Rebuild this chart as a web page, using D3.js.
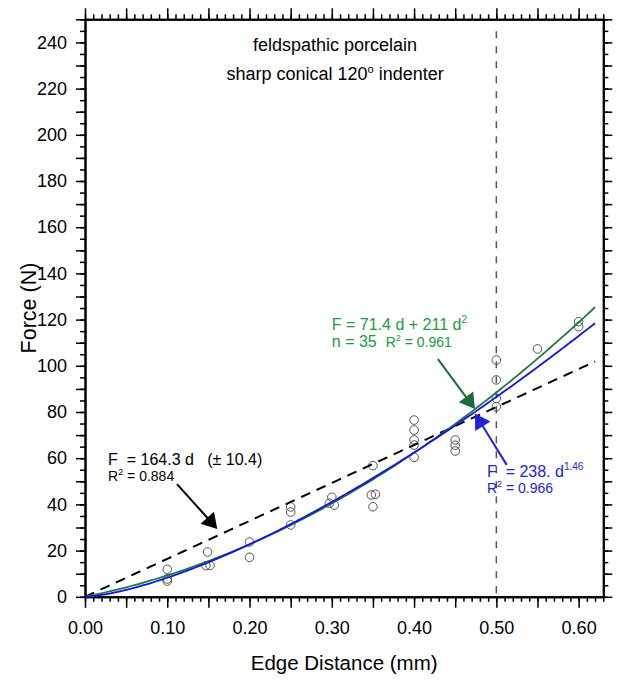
<!DOCTYPE html>
<html><head><meta charset="utf-8">
<script src="https://cdn.jsdelivr.net/npm/d3@7"></script>
<style>html,body{margin:0;padding:0;background:#fff}svg{display:block;font-family:Arial,"Liberation Sans",sans-serif}</style>
</head><body>
<script>
// ---- data ----
const distance = [0.10,0.10,0.10, 0.149,0.147,0.152, 0.20,0.20, 0.25,0.25,0.25, 0.30,0.297,0.303,
  0.35,0.348,0.353,0.35, 0.40,0.40,0.40,0.40,0.40, 0.45,0.45,0.45, 0.50,0.50,0.50,0.50, 0.55, 0.60,0.60];
const force = [11.9,7.7,6.8, 19.4,13.5,13.6, 23.7,17.1, 38.9,36.7,31.1, 43.1,40.5,39.7,
  56.8,44.1,44.4,39.0, 76.5,72.2,67.9,65.7,60.4, 67.9,65.6,63.1, 102.5,93.9,85.9,82.3, 107.3, 119.1,116.9];
const linearFit = [164.3];        // F = a d
const quadFit = [71.4, 211];      // F = a d + b d^2
const powerFit = [238, 1.46];     // F = a d^b
const fitRange = [0, 0.62];
const xTickLabels = ["0.00","0.10","0.20","0.30","0.40","0.50","0.60"];
const yTickLabels = ["0","20","40","60","80","100","120","140","160","180","200","220","240"];
const xDomain = [0, 0.63], yDomain = [0, 250];
const limitLine = [0.50];

const W = 624, H = 681;
const svg = d3.select("body").append("svg").attr("width", W).attr("height", H);
const x = d3.scaleLinear().domain(xDomain).range([85, 603.3]);
const y = d3.scaleLinear().domain(yDomain).range([596.8, 19.3]);

// axes
function styleAxis(g){
  g.select(".domain").attr("stroke","#000").attr("stroke-width",2);
  g.selectAll(".tick line").attr("stroke","#000").attr("stroke-width",1.5);
  g.selectAll("text").attr("font-size",18).attr("fill","#000").attr("font-family","Arial, 'Liberation Sans', sans-serif");
}
const xMinor = d3.range(0, 64).map(i => i/100);
const xMajor = d3.range(0, 13).map(i => i*0.05);
const yMinor = d3.range(0, 51).map(i => i*5);
const yMajor = d3.range(0, 26).map(i => i*10);
const xFmt = v => { const s = d3.format(".2f")(v); return xTickLabels.includes(s) ? s : ""; };
const yFmt = v => { const s = String(Math.round(v)); return yTickLabels.includes(s) ? s : ""; };

svg.append("g").attr("transform",`translate(0,${y(0)})`).call(d3.axisBottom(x).tickValues(xMinor).tickSize(5).tickSizeOuter(0).tickFormat("")).call(styleAxis);
svg.append("g").attr("transform",`translate(0,${y(0)})`).call(d3.axisBottom(x).tickValues(xMajor).tickSize(11).tickSizeOuter(0).tickPadding(13).tickFormat(xFmt)).call(styleAxis);
svg.append("g").attr("transform",`translate(0,${y(250)})`).call(d3.axisTop(x).tickValues(xMinor).tickSize(5).tickSizeOuter(0).tickFormat("")).call(styleAxis);
svg.append("g").attr("transform",`translate(0,${y(250)})`).call(d3.axisTop(x).tickValues(xMajor).tickSize(11).tickSizeOuter(0).tickFormat("")).call(styleAxis);
svg.append("g").attr("transform",`translate(${x(0)},0)`).call(d3.axisLeft(y).tickValues(yMinor).tickSize(5).tickSizeOuter(0).tickFormat("")).call(styleAxis);
svg.append("g").attr("transform",`translate(${x(0)},0)`).call(d3.axisLeft(y).tickValues(yMajor).tickSize(9).tickSizeOuter(0).tickPadding(9).tickFormat(yFmt)).call(styleAxis);
svg.append("g").attr("transform",`translate(${x(0.63)},0)`).call(d3.axisRight(y).tickValues(yMinor).tickSize(5).tickSizeOuter(0).tickFormat("")).call(styleAxis);
svg.append("g").attr("transform",`translate(${x(0.63)},0)`).call(d3.axisRight(y).tickValues(yMajor).tickSize(9).tickSizeOuter(0).tickFormat("")).call(styleAxis);

// axis titles
svg.append("text").attr("x",(x(0)+x(0.63))/2).attr("y",670).attr("text-anchor","middle").attr("font-size",20.5).text("Edge Distance (mm)");
svg.append("text").attr("transform",`translate(36,${(y(0)+y(250))/2}) rotate(-90)`).attr("text-anchor","middle").attr("font-size",21.5).text("Force (N)");

// vertical dashed line
svg.append("line").attr("x1",x(limitLine[0])).attr("x2",x(limitLine[0])).attr("y1",y(250)+12).attr("y2",y(0))
  .attr("stroke","#555").attr("stroke-width",1.5).attr("stroke-dasharray","7,8");

// data points
svg.append("g").selectAll("circle").data(distance.map((d,i)=>[d,force[i]])).join("circle")
  .attr("cx",d=>x(d[0])).attr("cy",d=>y(d[1])).attr("r",4.3)
  .attr("fill","none").attr("stroke","#555").attr("stroke-width",1);

// fit curves
const ds = d3.range(0, 125).map(i => fitRange[0] + (fitRange[1]-fitRange[0])*i/124);
const line = d3.line().x(d=>x(d[0])).y(d=>y(d[1]));
svg.append("path").attr("d", line(ds.map(d=>[d, linearFit[0]*d]))).attr("fill","none")
  .attr("stroke","#000").attr("stroke-width",2).attr("stroke-dasharray","10,7");
svg.append("path").attr("d", line(ds.map(d=>[d, quadFit[0]*d + quadFit[1]*d*d]))).attr("fill","none")
  .attr("stroke","#1e7a3c").attr("stroke-width",1.8);
svg.append("path").attr("d", line(ds.map(d=>[d, powerFit[0]*Math.pow(d,powerFit[1])]))).attr("fill","none")
  .attr("stroke","#1414e6").attr("stroke-width",1.8);

// arrows (data coordinates)
function arrow(from, to, color, w, L, hw){
  const x1=x(from[0]), y1=y(from[1]), x2=x(to[0]), y2=y(to[1]);
  const dx=x2-x1, dy=y2-y1, len=Math.hypot(dx,dy), ux=dx/len, uy=dy/len;
  const bx=x2-ux*L, by=y2-uy*L;
  svg.append("line").attr("x1",x1).attr("y1",y1).attr("x2",bx+ux*2).attr("y2",by+uy*2).attr("stroke",color).attr("stroke-width",w);
  svg.append("polygon").attr("points",[[x2,y2],[bx-uy*hw,by+ux*hw],[bx+uy*hw,by-ux*hw]].map(p=>p.join(",")).join(" ")).attr("fill",color);
}
arrow([0.1118,48.8],[0.1608,29.4],"#000",2,15,9);
arrow([0.429,102.9],[0.474,81.3],"#1e6b3a",2,15,9);
arrow([0.5126,57.1],[0.474,79.4],"#2222dd",2,15,9);

// annotations
const t1 = svg.append("text").attr("x",x(0.304)).attr("y",51).attr("text-anchor","middle").attr("font-size",18).text("feldspathic porcelain");
const t2 = svg.append("text").attr("x",x(0.304)).attr("y",80).attr("text-anchor","middle").attr("font-size",18);
t2.append("tspan").text("sharp conical 120");
t2.append("tspan").attr("font-size",11).attr("dy",-7).text("o");
t2.append("tspan").attr("dy",7).text(" indenter");

function eqText(px, py, color, parts){
  const t = svg.append("text").attr("x",px).attr("y",py).attr("fill",color).style("white-space","pre");
  parts.forEach(p => {
    const s = t.append("tspan").attr("font-size", p.size).text(p.text);
    if (p.dy) s.attr("dy", p.dy);
  });
}
eqText(x(0.028), y(57.1), "#000", [{text:"F  = 164.3 d   (\u00b1 10.4)", size:16}]);
eqText(x(0.028), y(50.1), "#000", [{text:"R", size:14},{text:"2",size:9,dy:-6},{text:" = 0.884",size:14,dy:6}]);
eqText(x(0.300), y(115.5), "#229944", [{text:"F = 71.4 d + 211 d",size:16},{text:"2",size:10,dy:-7}]);
eqText(x(0.300), y(108.1), "#229944", [{text:"n = 35  ",size:16},{text:"R",size:14},{text:"2",size:9,dy:-6},{text:" = 0.961",size:14,dy:6}]);
eqText(x(0.4886), y(51.9), "#2222dd", [{text:"F  = 238. d",size:16},{text:"1.46",size:10,dy:-7}]);
eqText(x(0.4886), y(45.0), "#2222dd", [{text:"R",size:14},{text:"2",size:9,dy:-6},{text:" = 0.966",size:14,dy:6}]);
</script>
</body></html>
